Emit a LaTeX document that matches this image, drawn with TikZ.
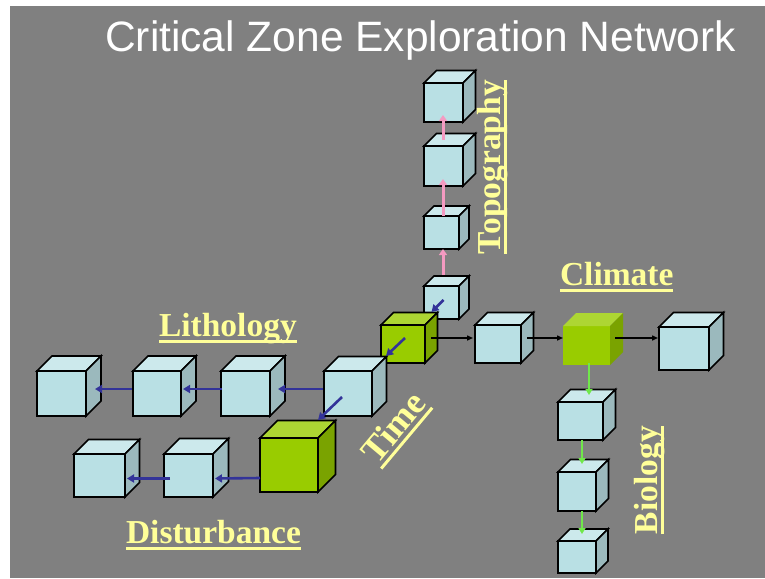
\documentclass[tikz,border=0pt]{standalone}
\usepackage{fontspec}
\setmainfont{Liberation Serif}
\newfontfamily\titlefont{Liberation Sans}
\usetikzlibrary{arrows.meta,calc}
\definecolor{bgc}{HTML}{808080}
\definecolor{cyF}{HTML}{B9E0E4}
\definecolor{cyT}{HTML}{CCE9EC}
\definecolor{cyS}{HTML}{9BB9BD}
\definecolor{grF}{HTML}{99CC00}
\definecolor{grT}{HTML}{ADD633}
\definecolor{grS}{HTML}{7AA300}
\definecolor{lab}{HTML}{FFFF99}
\definecolor{pinkc}{HTML}{F49AC1}
\definecolor{bluec}{HTML}{333399}
\definecolor{greenc}{HTML}{70E84A}
\newcommand{\yul}[1]{\setbox0\hbox{#1}\rlap{\rule[-7pt]{\wd0}{3pt}}\box0}
\newcommand{\cubebox}[7]{%
  \node[#7front, minimum width={(#4-#2)*1pt}, minimum height={(#5-#3)*1pt}] (#1) at ({(#2+#4)/2},{(#3+#5)/2}) {};
  \filldraw[#7top] (#1.north west) -- ++(#6,-#6) -- ++({#4-#2},0) -- (#1.north east) -- cycle;
  \filldraw[#7side] (#1.north east) -- ++(#6,-#6) -- ++(0,{#5-#3}) -- (#1.south east) -- cycle;
}
\tikzset{
  cyfront/.style={fill=cyF, draw=black, line width=1.6pt, inner sep=0pt, outer sep=0pt},
  cytop/.style={fill=cyT, draw=black, line width=1.6pt},
  cyside/.style={fill=cyS, draw=black, line width=1.6pt},
  grfront/.style={fill=grF, draw=black, line width=1.6pt, inner sep=0pt, outer sep=0pt},
  grtop/.style={fill=grT, draw=black, line width=1.6pt},
  grside/.style={fill=grS, draw=black, line width=1.6pt},
  gnfront/.style={fill=grF, draw=none, inner sep=0pt, outer sep=0pt},
  gntop/.style={fill=grT, draw=none},
  gnside/.style={fill=grS, draw=none},
  pinkarr/.style={draw=pinkc, line width=3pt, -{Triangle[length=6pt,width=8pt]}},
  bluearr/.style={draw=bluec, line width=2.6pt, -{Triangle[length=7pt,width=8pt]}},
  blackarr/.style={draw=black, line width=1.4pt, -{Triangle[length=6pt,width=5pt]}},
  greenarr/.style={draw=greenc, line width=2.6pt, -{Triangle[length=6pt,width=7pt]}},
  axislabel/.style={text=lab, font=\fontsize{33.5}{40}\selectfont\bfseries, inner sep=0pt, outer sep=0pt},
}
\begin{document}
\begin{tikzpicture}[x=1pt, y=-1pt]
\useasboundingbox (0,0) rectangle (765,578);
\fill[white] (0,0) rectangle (765,578);
\fill[bgc] (10,6) rectangle (765,578);
\node[text=white, font=\titlefont\fontsize{42.5}{50}\selectfont, anchor=base west, inner sep=0pt] (title) at (105,52) {Critical Zone Exploration Network};
% topography cubes
\cubebox{T4}{424}{83}{463}{122}{12.5}{cy}
\cubebox{T3}{424}{146}{463}{186}{12.5}{cy}
\cubebox{T2}{424}{216}{459}{249}{10}{cy}
\cubebox{T1}{424}{286}{459}{319}{10}{cy}
% centre and climate row
\cubebox{G1}{381}{325}{425}{363}{12.5}{gr}
\cubebox{C1}{475}{325}{521}{363}{12.5}{cy}
\cubebox{G2}{563}{326}{610}{365}{13}{gn}
\cubebox{C2}{659}{327}{709}{370}{14.5}{cy}
% biology
\cubebox{B1}{558}{402}{603}{440}{12.5}{cy}
\cubebox{B2}{558}{472}{596}{511}{12.5}{cy}
\cubebox{B3}{558}{541}{596}{573}{12}{cy}
% lithology
\cubebox{L1}{37}{371}{86}{416}{15}{cy}
\cubebox{L2}{133}{371}{181}{416}{15}{cy}
\cubebox{L3}{221}{371}{270}{416}{15}{cy}
\cubebox{L4}{324}{371}{372}{416}{14.5}{cy}
% disturbance
\cubebox{G3}{260}{438}{318}{492}{17.5}{gr}
\cubebox{D2}{164}{454}{213}{497}{15.5}{cy}
\cubebox{D1}{74}{454}{125}{497}{14.5}{cy}
% pink arrows
\draw[pinkarr] ($(T1.north)+(1.5,-11)$) -- ($(T2.south)+(1.5,0)$);
\draw[pinkarr] ($(T2.north)+(1.5,0)$) -- ($(T3.south)+(-0.5,-7)$);
\draw[pinkarr] ($(T3.north)+(-0.5,-6)$) -- ($(T4.south)+(-0.5,-7)$);
% time diagonal
\draw[bluearr] ($(T1.center)+(2,-2.5)$) -- ($(G1.north east)+(6.5,-13)$);
\draw[bluearr] ($(G1.center)+(2,-6)$) -- ($(L4.north east)+(14,-15)$);
\draw[bluearr] ($(L4.center)+(-6,3.5)$) -- ($(G3.north east)+(0,-18)$);
% lithology arrows
\draw[bluearr] ($(L4.west)+(-1,-4.5)$) -- ($(L3.east)+(8,-4.5)$);
\draw[bluearr] ($(L3.west)+(1,-4.5)$) -- ($(L2.east)+(2,-4.5)$);
\draw[bluearr] ($(L2.west)+(-1,-4.5)$) -- ($(L1.east)+(9,-4.5)$);
% disturbance arrows
\draw[bluearr] ($(G3.west)+(0,13)$) -- ($(D2.east)+(2,3)$);
\draw[bluearr] ($(D2.west)+(6,3)$) -- ($(D1.east)+(2,3)$);
% climate arrows
\draw[blackarr] ($(G1.east)+(6,-6)$) -- ($(C1.west)+(-2,-6)$);
\draw[blackarr] ($(C1.east)+(6,-6)$) -- ($(G2.west)+(0,-7.5)$);
\draw[blackarr] ($(G2.east)+(5,-7.5)$) -- ($(C2.west)+(-1,-10.5)$);
% biology arrows
\draw[greenarr] ($(G2.south)+(2.5,-2)$) -- ($(B1.north)+(8.5,-7)$);
\draw[greenarr] ($(B1.south)+(1.5,0)$) -- ($(B2.north)+(5,-8)$);
\draw[greenarr] ($(B2.south)+(5,0)$) -- ($(B3.north)+(5,-7)$);
% labels
\node[axislabel, anchor=base west] (lith) at (159,336) {\yul{Lithology}};
\node[axislabel, anchor=base west] (clim) at (560,285) {\yul{Climate}};
\node[axislabel, anchor=base west] (dist) at (126,543) {\yul{Disturbance}};
\node[axislabel, anchor=base west, rotate=90] (topo) at (500,254) {\yul{Topography}};
\node[axislabel, anchor=base west, rotate=90] (bio) at (657,534) {\yul{Biology}};
\node[axislabel, anchor=base west, rotate=50, font=\fontsize{36}{42}\selectfont\bfseries] (time) at (377,465) {\yul{Time}};
\end{tikzpicture}
\end{document}
